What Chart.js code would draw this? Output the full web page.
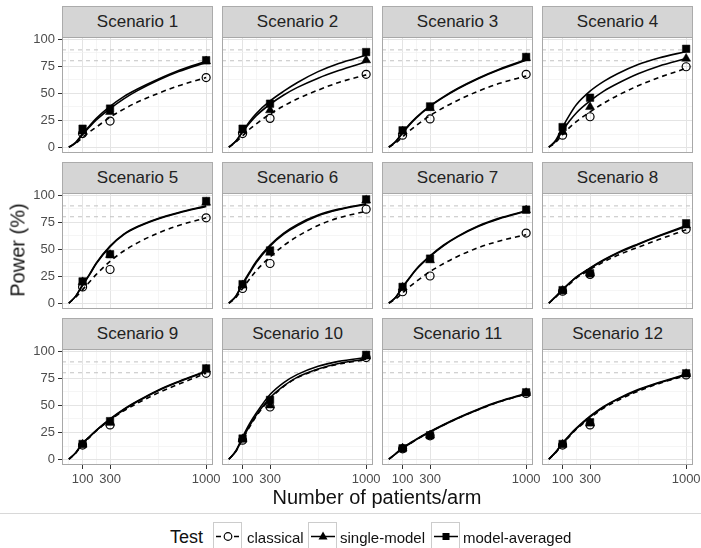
<!DOCTYPE html>
<html><head><meta charset="utf-8">
<script src="https://cdn.jsdelivr.net/npm/chart.js@4.4.1/dist/chart.umd.min.js"></script>
<style>
html,body{margin:0;padding:0;background:#fff;}
body{width:701px;height:548px;position:relative;overflow:hidden;font-family:"Liberation Sans",Arial,sans-serif;}
.strip{position:absolute;background:#d5d5d5;border:1px solid #ababab;box-sizing:border-box;text-align:center;font-size:17px;color:#222;}
canvas{position:absolute;}
.txt{position:absolute;white-space:nowrap;color:#111;}
.key{position:absolute;width:29px;height:28px;border:1px solid #cccccc;box-sizing:border-box;background:#fff;}
</style></head><body>
<script>
// ---------- data ----------
const scenarios = ['Scenario 1','Scenario 2','Scenario 3','Scenario 4','Scenario 5','Scenario 6','Scenario 7','Scenario 8','Scenario 9','Scenario 10','Scenario 11','Scenario 12'];
const testNames = ['classical','single-model','model-averaged'];
const sampleSizes = [100, 300, 1000];
const curveN = [0, 50, 100, 150, 200, 300, 400, 500, 650, 800, 1000];
const xTicks = [100, 300, 1000];
const xMinorTicks = [0, 200, 650];
const yTicks = [0, 25, 50, 75, 100];
const yMinorTicks = [12.5, 37.5, 62.5, 87.5];
const refLines = [80, 90];

const classicalCurve = [
  [0.5,4,9.5,14.5,19,28,35.5,42,50,57,64.5],
  [0.5,5,11,17,22,31,38.5,45,53,60,67],
  [0.5,4.5,10,15.5,20.5,29.5,37,43.5,52,59,66],
  [0.5,5,12,18.5,24,33,41,48,57,64.5,73],
  [0.5,6,13,20,27,39,48.5,56,65,72,79],
  [0.5,5.5,14,22.5,30.5,43,53.5,62,72,79,85],
  [0.5,4.5,10,15.5,20.5,29.5,37,43.5,51.5,57.5,63.5],
  [0.5,6,12.5,18,23.5,31.5,38.5,44.5,52,59,68],
  [0.5,6,14.5,20.5,26.5,36.5,45,52,61.5,69.5,79.5],
  [0.5,7.5,19,30,40,56,67.5,75.5,83,88,92],
  [0.5,5.5,10.5,14.5,18.5,25.5,32,38,46,53,60.5],
  [0.5,6.5,14.5,21.5,28,38.5,47.5,54.5,63,70,77.5]
];
const singleCurve = [
  [0.5,4.5,12,19,25.5,36,45,52.5,62,70,78.5],
  [0.5,6,14.5,22.5,29.5,40,48.5,55.5,64,71,79],
  [0.5,5.5,13.5,21,27.5,38,46.5,54,63.5,71.5,80.5],
  [0.5,6,15.5,24.5,32,43,52,59,68,75,82],
  [0.5,7,17,26.5,37,52.5,63.5,70.5,78,83.5,89.5],
  [0.5,6.5,17.5,28,38,53,64,72,81,86.5,91.5],
  [0.5,6,15,23.5,31.5,43.5,53.5,61.5,71,78,85],
  [0.5,6.5,13,19,24.5,32.5,40,46.5,54.5,62,71],
  [0.5,6.5,15,21,27,37,46,53.5,63.5,71.5,81],
  [0.5,7.5,19.5,31,41,57,68,76,83.5,88.5,92.5],
  [0.5,5.5,10.5,14.5,18.5,25.5,32,38,46,53,60.5],
  [0.5,7,15,22,28.5,39.5,48.5,55.5,64,70.5,78]
];
const averagedCurve = [
  [0.5,5,13,20,27,38,47,54,63,71,79.5],
  [0.5,6,15,24,31.5,43,52,60,70,77.5,85],
  [0.5,6,14,21.5,28,38.5,47,54.5,64,72,81],
  [0.5,7,19,30,39.5,52,61,68,76.5,82.5,88.5],
  [0.5,7,17.5,27,37.5,53,64,71,78.5,84,90],
  [0.5,7,18.5,29,39,54,65,73,81.5,87,92],
  [0.5,6,15.5,24,32,44,54,62,71.5,78.5,85.5],
  [0.5,6.5,13,19,24.5,33,40.5,47,55,62.5,72],
  [0.5,6.5,15,21,27,37.5,46.5,54,64,72,81.5],
  [0.5,8,21,33,43,60,71,78.5,86,90.5,94],
  [0.5,5.5,11,15,19,26,32.5,38.5,46.5,53.5,61],
  [0.5,7,15.5,22.5,29,40,49,56,64.5,71,78.5]
];
const classicalPts = [[13,24.5,64.5],[13,27,67.5],[11.5,26.5,67.5],[11.5,28.5,74.5],[15.5,31.5,79],[14,37,87],[11,25.5,65],[11.5,27,68.5],[13.5,32,79.5],[18,48.5,94],[10,22,61],[13.5,32,78]];
const singlePts = [[15,33,79.5],[16,34.5,80.5],[15,36.5,82.5],[14.5,37.5,82],[20,45,93],[17,47,95],[15,40,86],[12,28,72],[14,34,83],[19,50,95],[10.5,22.5,61.5],[14,33.5,79]];
const averagedPts = [[17.5,36,80.5],[17.5,40.5,88],[16,38,83.5],[19,46,91],[20.5,45.5,94.5],[18,49,96],[15.5,41.5,86.5],[12.5,28,74],[14.5,35.5,84],[19.5,55,96.5],[10.5,22.5,62],[14.5,34.5,79.5]];

// ---------- layout ----------
const FONT = '"Liberation Sans", Arial, sans-serif';
const plotW = 151, plotH = 116, stripH = 31, padTop = 16, padRight = 22, padBottom = 16;
const colLeft = c => 62 + 160 * c;
const stripTop = r => 6 + 156 * r;

const borderPlugin = {
  id: 'panelBorder',
  afterDatasetsDraw(chart) {
    const a = chart.chartArea, ctx = chart.ctx;
    ctx.save();
    ctx.strokeStyle = '#a8a8a8';
    ctx.lineWidth = 1;
    ctx.strokeRect(a.left + 0.5, a.top + 0.5, a.right - a.left - 1, a.bottom - a.top - 1);
    ctx.restore();
  }
};

function makePanel(p) {
  const r = Math.floor(p / 4), c = p % 4;
  const left = colLeft(c), sTop = stripTop(r), pTop = sTop + stripH;
  const yW = c === 0 ? 45 : 0;
  const xH = r === 2 ? 26 : 0;

  const strip = document.createElement('div');
  strip.className = 'strip';
  strip.style.left = left + 'px'; strip.style.top = sTop + 'px';
  strip.style.width = plotW + 'px'; strip.style.height = (stripH + 1) + 'px';
  strip.style.lineHeight = (stripH - 1) + 'px';
  strip.textContent = scenarios[p];
  document.body.appendChild(strip);

  const cv = document.createElement('canvas');
  const cw = yW + plotW + padRight, ch = padTop + plotH + xH + padBottom;
  cv.width = cw; cv.height = ch;
  cv.style.width = cw + 'px'; cv.style.height = ch + 'px';
  cv.style.left = (left - yW) + 'px'; cv.style.top = (pTop - padTop) + 'px';
  document.body.appendChild(cv);

  const xs = new Set(xTicks), ys = new Set(yTicks);
  const datasets = [];
  refLines.forEach(v => datasets.push({
    data: [{x: -50, y: v}, {x: 1050, y: v}],
    borderColor: '#c2c2c2', borderWidth: 1, borderDash: [4, 4],
    pointRadius: 0, order: 3
  }));
  const curves = [classicalCurve, singleCurve, averagedCurve];
  curves.forEach((cur, t) => datasets.push({
    data: curveN.map((n, i) => ({x: n, y: cur[p][i]})),
    borderColor: '#000', borderWidth: 1.6, borderDash: t === 0 ? [5, 4] : [],
    pointRadius: 0, cubicInterpolationMode: 'monotone', order: 2
  }));
  const pts = [classicalPts, singlePts, averagedPts];
  const styles = [
    {pointStyle: 'circle', pointRadius: 4, backgroundColor: 'rgba(0,0,0,0)', borderColor: '#000', pointBorderWidth: 1.2},
    {pointStyle: 'triangle', pointRadius: 5.2, backgroundColor: '#000', borderColor: '#000', pointBorderWidth: 0.5},
    {pointStyle: 'rect', pointRadius: 5.3, backgroundColor: '#000', borderColor: '#000', pointBorderWidth: 0.5}
  ];
  pts.forEach((ps, t) => datasets.push(Object.assign({
    data: sampleSizes.map((n, i) => ({x: n, y: ps[p][i]})),
    showLine: false, order: 1
  }, styles[t])));

  new Chart(cv, {
    type: 'line',
    data: {datasets},
    plugins: [borderPlugin],
    options: {
      responsive: false, animation: false, devicePixelRatio: 1,
      layout: {autoPadding: false, padding: {top: padTop, right: padRight, left: 0, bottom: padBottom}},
      plugins: {legend: {display: false}, tooltip: {enabled: false}},
      scales: {
        x: {
          type: 'linear', min: -50, max: 1050,
          afterBuildTicks: s => { s.ticks = [...xMinorTicks, ...xTicks].sort((a, b) => a - b).map(v => ({value: v})); },
          afterFit: s => { s.height = xH; },
          border: {display: false},
          grid: {
            color: ctx => xs.has(ctx.tick && ctx.tick.value) ? '#e4e4e4' : '#f1f1f1',
            lineWidth: ctx => xs.has(ctx.tick && ctx.tick.value) ? 1 : 0.7,
            drawTicks: r === 2, tickLength: 4,
            tickColor: ctx => xs.has(ctx.tick && ctx.tick.value) ? '#333' : 'rgba(0,0,0,0)'
          },
          ticks: {
            display: r === 2, autoSkip: false, maxRotation: 0, padding: 3,
            color: '#4d4d4d', font: {family: FONT, size: 13},
            callback: v => xs.has(v) ? String(v) : ''
          }
        },
        y: {
          type: 'linear', min: -4.85, max: 101.85,
          afterBuildTicks: s => { s.ticks = [...yTicks, ...yMinorTicks].sort((a, b) => a - b).map(v => ({value: v})); },
          afterFit: s => { s.width = yW; },
          border: {display: false},
          grid: {
            color: ctx => ys.has(ctx.tick && ctx.tick.value) ? '#e4e4e4' : '#f1f1f1',
            lineWidth: ctx => ys.has(ctx.tick && ctx.tick.value) ? 1 : 0.7,
            drawTicks: c === 0, tickLength: 4,
            tickColor: ctx => ys.has(ctx.tick && ctx.tick.value) ? '#333' : 'rgba(0,0,0,0)'
          },
          ticks: {
            display: c === 0, autoSkip: false, padding: 3,
            color: '#4d4d4d', font: {family: FONT, size: 13},
            callback: v => ys.has(v) ? String(v) : ''
          }
        }
      }
    }
  });
}

for (let p = 0; p < 12; p++) makePanel(p);

// ---------- titles & legend ----------
function addText(txt, css) {
  const d = document.createElement('div');
  d.className = 'txt'; d.textContent = txt;
  Object.assign(d.style, css);
  document.body.appendChild(d);
  return d;
}
addText('Power (%)', {left: '18px', top: '250px', fontSize: '20px', transform: 'translate(-50%,-50%) rotate(-90deg)', color: '#111'});
addText('Number of patients/arm', {left: '377px', top: '497px', fontSize: '20px', transform: 'translate(-50%,-50%)', color: '#111'});

const sep = document.createElement('div');
Object.assign(sep.style, {position: 'absolute', left: '0px', top: '513px', width: '701px', height: '1px', background: '#d8d8d8'});
document.body.appendChild(sep);

addText('Test', {left: '170px', top: '537px', fontSize: '18px', transform: 'translateY(-50%)'});
const keyX = [213, 308, 431];
const labelX = [247, 340, 463];
const keySvg = [
  '<line x1="2" y1="13.5" x2="26" y2="13.5" stroke="#000" stroke-width="1.5" stroke-dasharray="5,4"/><circle cx="14" cy="13.5" r="3.8" fill="#fff" stroke="#000" stroke-width="1.2"/>',
  '<line x1="2" y1="13.5" x2="26" y2="13.5" stroke="#000" stroke-width="1.5"/><polygon points="14,8.5 18.5,16.5 9.5,16.5" fill="#000"/>',
  '<line x1="2" y1="13.5" x2="26" y2="13.5" stroke="#000" stroke-width="1.5"/><rect x="10.5" y="10" width="7" height="7" fill="#000"/>'
];
testNames.forEach((name, i) => {
  const k = document.createElement('div');
  k.className = 'key';
  k.style.left = keyX[i] + 'px'; k.style.top = '522px';
  k.innerHTML = '<svg width="27" height="26" style="position:absolute;left:0;top:0">' + keySvg[i] + '</svg>';
  document.body.appendChild(k);
  addText(name, {left: labelX[i] + 'px', top: '537px', fontSize: '15px', transform: 'translateY(-50%)'});
});
</script>
</body></html>
